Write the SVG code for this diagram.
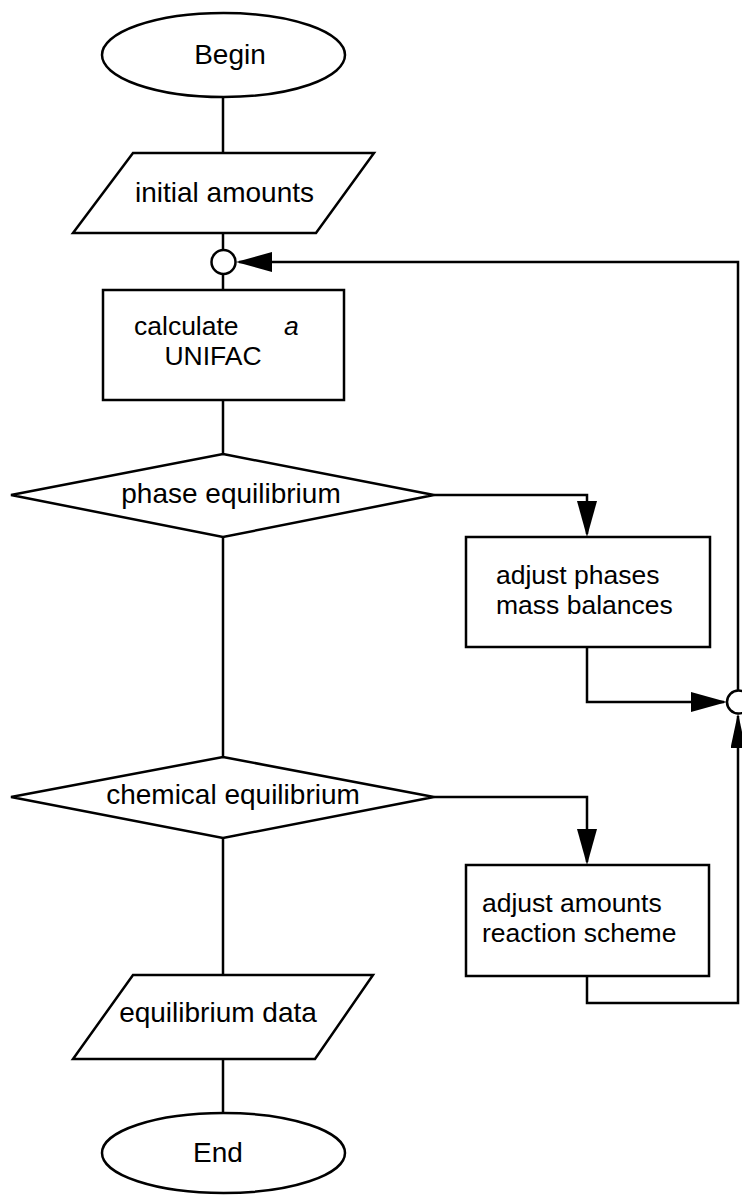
<svg xmlns="http://www.w3.org/2000/svg" width="742" height="1195" viewBox="0 0 742 1195">
<style>
.s{fill:#fff;stroke:#000;stroke-width:2.5;stroke-linejoin:miter}
.c{fill:none;stroke:#000;stroke-width:2.5}
.t{font-family:"Liberation Sans",Arial,Helvetica,sans-serif;font-size:28px;fill:#000}
.t2{font-size:26.5px}
.m{text-anchor:middle}
</style>
<defs>
<marker id="arr" markerUnits="userSpaceOnUse" markerWidth="36" markerHeight="20" viewBox="0 0 36 20" refX="33" refY="10" orient="auto">
<path d="M0,0 L36,10 L0,20 z" fill="#000"/>
</marker>
<marker id="arrN" markerUnits="userSpaceOnUse" markerWidth="35" markerHeight="15" viewBox="0 0 35 15" refX="32" refY="7.5" orient="auto">
<path d="M0,0 L35,7.5 L0,15 z" fill="#000"/>
</marker>
</defs>
<g id="connectors">
<path class="c" d="M223,97 V153"/>
<path class="c" d="M223,233 V250"/>
<path class="c" d="M223,274 V290"/>
<path class="c" d="M223,400 V454"/>
<path class="c" d="M223,537 V757"/>
<path class="c" d="M223,838 V975"/>
<path class="c" d="M223,1059 V1113"/>
<path class="c" d="M434,495 H587 V534" marker-end="url(#arr)"/>
<path class="c" d="M587,647 V702 H724" marker-end="url(#arr)"/>
<path class="c" d="M434,797 H587 V862" marker-end="url(#arr)"/>
<path class="c" d="M587,976 V1003 H738 V716" marker-end="url(#arrN)"/>
<path class="c" d="M738,691 V262 H239" marker-end="url(#arr)"/>
</g>
<g id="begin">
<ellipse class="s" cx="223.5" cy="55" rx="121.5" ry="42"/>
<text class="t m" x="230" y="64">Begin</text>
</g>
<g id="initial-amounts">
<polygon class="s" points="133,153 374,153 316,233 73,233"/>
<text class="t m" x="224.5" y="202">initial amounts</text>
</g>
<g id="merge-top">
<circle class="s" cx="223.5" cy="262" r="12"/>
</g>
<g id="calculate">
<rect class="s" x="103" y="290" width="241" height="110"/>
<text class="t t2" x="134" y="335">calculate</text>
<text class="t t2" x="284" y="335" font-style="italic">a</text>
<text class="t t2 m" x="213" y="365">UNIFAC</text>
</g>
<g id="phase-equilibrium">
<polygon class="s" points="223,454 434,495 223,537 11,495"/>
<text class="t m" x="231" y="503">phase equilibrium</text>
</g>
<g id="adjust-phases">
<rect class="s" x="466" y="537" width="244" height="110"/>
<text class="t t2" x="496" y="584">adjust phases</text>
<text class="t t2" x="496" y="614">mass balances</text>
</g>
<g id="merge-right">
<circle class="s" cx="738.5" cy="702" r="11.5"/>
</g>
<g id="chemical-equilibrium">
<polygon class="s" points="223,757 434,797 223,838 11,797"/>
<text class="t m" x="233" y="804">chemical equilibrium</text>
</g>
<g id="adjust-amounts">
<rect class="s" x="466" y="865" width="243" height="111"/>
<text class="t t2" x="482" y="912">adjust amounts</text>
<text class="t t2" x="482" y="942">reaction scheme</text>
</g>
<g id="equilibrium-data">
<polygon class="s" points="133,975 373,975 315,1059 73,1059"/>
<text class="t m" x="218" y="1022">equilibrium data</text>
</g>
<g id="end">
<ellipse class="s" cx="223.5" cy="1153" rx="121.5" ry="40"/>
<text class="t m" x="218" y="1162">End</text>
</g>
</svg>
